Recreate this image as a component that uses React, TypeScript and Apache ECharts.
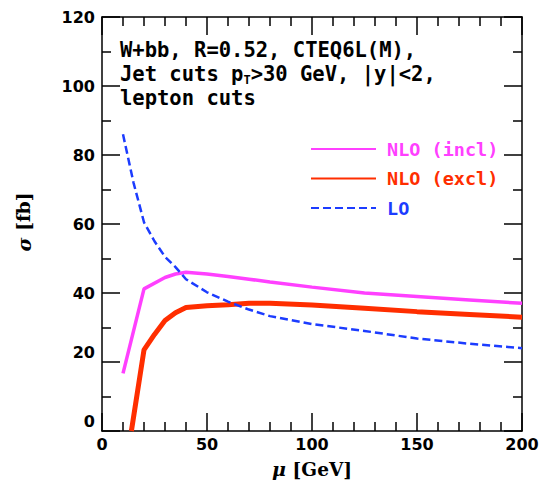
import React, { useEffect, useRef } from "react";
import * as echarts from "echarts";

// Renormalisation / factorisation scale mu [GeV] and cross sections sigma [fb]
const muLO = [10, 15, 20, 25, 30, 35, 40, 50, 60, 70, 80, 100, 125, 150, 175, 200];
const sigmaLO = [86, 72, 60.5, 55, 50.5, 47.5, 44, 40.2, 37.5, 35.2, 33.3, 31, 29, 26.8, 25.3, 24];

const muIncl = [10, 20, 30, 35, 40, 50, 60, 70, 80, 100, 125, 150, 175, 200];
const sigmaIncl = [16.7, 41.2, 44.5, 45.5, 46, 45.5, 44.8, 44, 43.2, 41.7, 40, 39, 38, 37];

const muExcl = [14, 20, 25, 30, 35, 40, 50, 60, 70, 80, 100, 125, 150, 175, 200];
const sigmaExcl = [0, 23.5, 28, 32, 34.3, 35.8, 36.3, 36.6, 37, 37, 36.5, 35.6, 34.6, 33.8, 33];

const xTicks = { min: 0, max: 200, step: 50 };
const yTicks = { min: 0, max: 120, step: 20 };

const seriesNames = ["NLO (incl)", "NLO (excl)", "LO"];
const seriesColors = ["#ff40ff", "#ff2e00", "#1c3cff"];

const infoLines = [
  "{a|W+bb, R=0.52, CTEQ6L(M),}",
  "{a|Jet cuts p}{s|T}{a|>30 GeV, |y|<2,}",
  "{a|lepton cuts}",
];

const pairs = (xs: number[], ys: number[]) => xs.map((x, i) => [x, ys[i]]);

const monoFont = "DejaVu Sans Mono";
const tickFont = "DejaVu Sans";
const titleFont = "DejaVu Serif";

export default function App() {
  const ref = useRef<HTMLDivElement>(null);

  useEffect(() => {
    document.body.style.margin = "0";
    if (!ref.current) return;
    const chart = echarts.init(ref.current, undefined, { renderer: "svg" });

    const axisLine = { show: true, onZero: false, lineStyle: { color: "#000", width: 1.5 } };
    const tick = { show: true, inside: true, length: 18, lineStyle: { color: "#000", width: 1.5 } };
    const minor = (n: number) => ({
      show: true,
      splitNumber: n,
      length: 9,
      lineStyle: { color: "#000", width: 1.5 },
    });
    const labelStyle = {
      color: "#000",
      fontFamily: tickFont,
      fontWeight: "bold" as const,
      fontSize: 16,
    };

    const xBase = {
      type: "value" as const,
      min: xTicks.min,
      max: xTicks.max,
      interval: xTicks.step,
      axisLine,
      axisTick: tick,
      minorTick: minor(5),
      splitLine: { show: false },
    };
    const yBase = {
      type: "value" as const,
      min: yTicks.min,
      max: yTicks.max,
      interval: yTicks.step,
      axisLine,
      axisTick: tick,
      minorTick: minor(2),
      splitLine: { show: false },
    };

    chart.setOption({
      animation: false,
      backgroundColor: "#fff",
      grid: { left: 102, right: 20, top: 17, bottom: 54 },
      xAxis: [
        { ...xBase, position: "bottom", axisLabel: { ...labelStyle, margin: 5 } },
        { ...xBase, position: "top", axisLabel: { show: false } },
      ],
      yAxis: [
        {
          ...yBase,
          position: "left",
          axisLabel: {
            ...labelStyle,
            margin: 7,
            formatter: (v: number) => (v <= 20 ? `{lo|${v}}` : `{n|${v}}`),
            rich: {
              n: { ...labelStyle },
              lo: { ...labelStyle, padding: [0, 0, 20, 0] },
            },
          },
        },
        { ...yBase, position: "right", axisLabel: { show: false } },
      ],
      legend: {
        orient: "vertical",
        left: 310,
        top: 138,
        padding: 0,
        itemWidth: 65,
        itemHeight: 14,
        itemGap: 7.5,
        selectedMode: false,
        itemStyle: { opacity: 0 },
        data: seriesNames.map((name, i) => ({
          name,
          textStyle: { color: seriesColors[i] },
        })),
        textStyle: {
          fontFamily: monoFont,
          fontWeight: "bold",
          fontSize: 18.5,
          lineHeight: 22,
          padding: [0, 0, 0, 6],
        },
      },
      series: [
        {
          name: seriesNames[0],
          type: "line",
          data: pairs(muIncl, sigmaIncl),
          symbol: "none",
          lineStyle: { color: seriesColors[0], width: 3.5 },
          itemStyle: { color: seriesColors[0] },
          xAxisIndex: 0,
          yAxisIndex: 0,
        },
        {
          name: seriesNames[1],
          type: "line",
          data: pairs(muExcl, sigmaExcl),
          symbol: "none",
          lineStyle: { color: seriesColors[1], width: 5 },
          itemStyle: { color: seriesColors[1] },
          xAxisIndex: 0,
          yAxisIndex: 0,
        },
        {
          name: seriesNames[2],
          type: "line",
          data: pairs(muLO, sigmaLO),
          symbol: "none",
          lineStyle: { color: seriesColors[2], width: 2.5, type: [8, 4] },
          itemStyle: { color: seriesColors[2] },
          xAxisIndex: 0,
          yAxisIndex: 0,
        },
      ],
      graphic: [
        {
          type: "text",
          left: 120,
          top: 39,
          style: {
            text: infoLines.join("\n"),
            rich: {
              a: {
                fontFamily: monoFont,
                fontWeight: "bold",
                fontSize: 20.5,
                lineHeight: 24,
                fill: "#000",
              },
              s: {
                fontFamily: monoFont,
                fontWeight: "bold",
                fontSize: 12,
                lineHeight: 14,
                verticalAlign: "bottom",
                fill: "#000",
              },
            },
          },
        },
        {
          type: "text",
          x: 312,
          y: 469,
          style: {
            text: "{m|μ}  {t|[GeV]}",
            align: "center",
            verticalAlign: "middle",
            rich: {
              m: { fontFamily: titleFont, fontStyle: "italic", fontWeight: "bold", fontSize: 19, fill: "#000" },
              t: { fontFamily: titleFont, fontWeight: "bold", fontSize: 18.5, fill: "#000" },
            },
          },
        },
        {
          type: "text",
          x: 23.5,
          y: 222,
          rotation: Math.PI / 2,
          style: {
            text: "{m|σ}  {t|[fb]}",
            align: "center",
            verticalAlign: "middle",
            rich: {
              m: { fontFamily: titleFont, fontStyle: "italic", fontWeight: "bold", fontSize: 19, fill: "#000" },
              t: { fontFamily: titleFont, fontWeight: "bold", fontSize: 18.5, fill: "#000" },
            },
          },
        },
      ],
    });

    return () => chart.dispose();
  }, []);

  return <div ref={ref} style={{ width: 542, height: 485 }} />;
}
